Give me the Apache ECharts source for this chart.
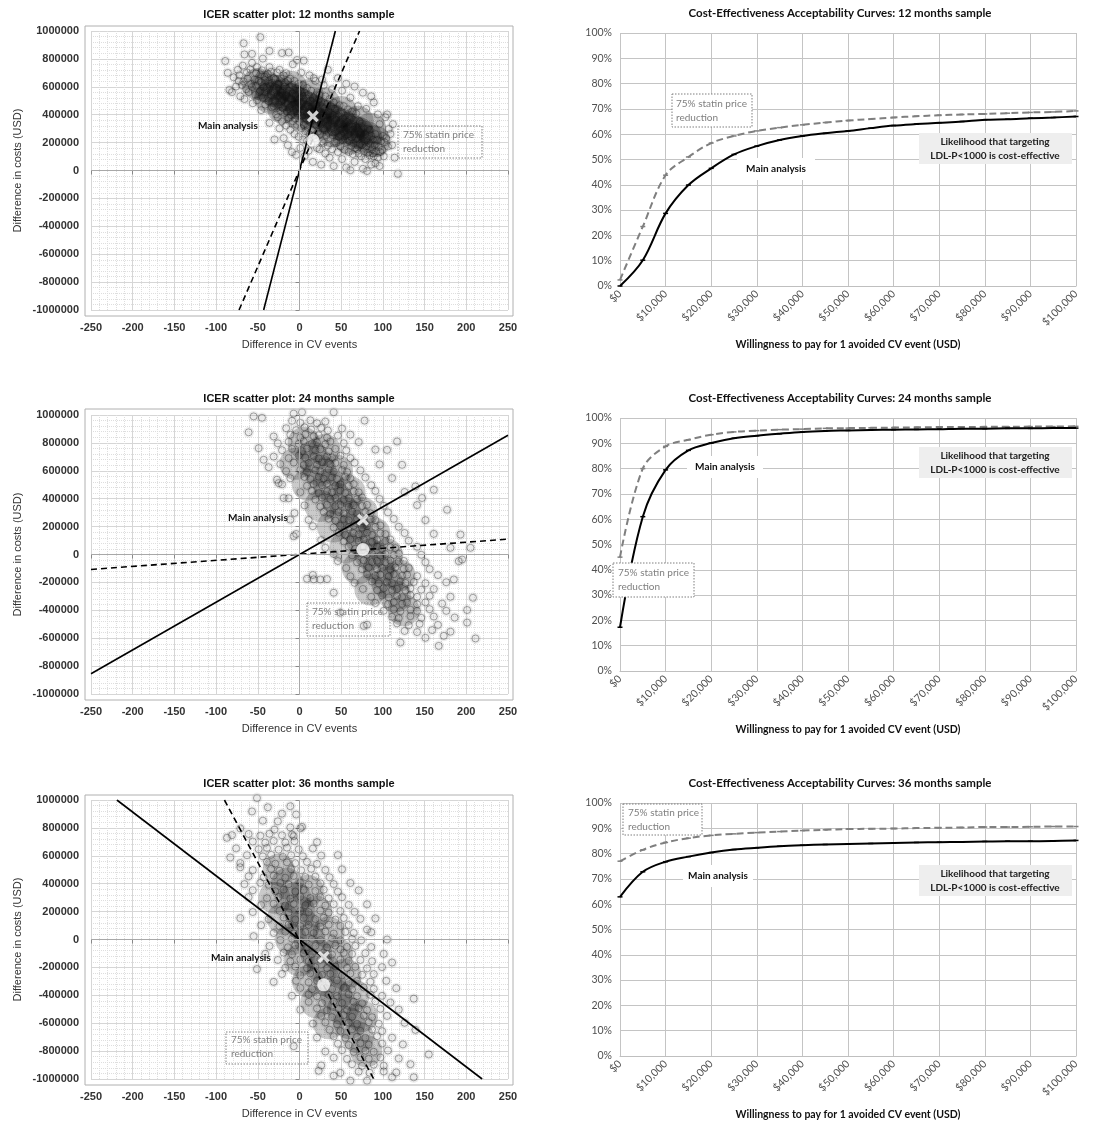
<!DOCTYPE html>
<html>
<head>
<meta charset="utf-8">
<script src="https://cdn.jsdelivr.net/npm/echarts@6/dist/echarts.min.js"></script>
<style>html,body{margin:0;background:#fff}#main{width:1119px;height:1122px}</style>
</head>
<body>
<div id="main"></div>
<script>
// ICER scatter clouds: [difference in CV events, difference in costs (thousand USD)]
const cloud12 = [[-89,785],[-84,578],[-86,700],[-81,562],[-79,668],[-76,602],[-73,642],[-74,722],[-71,532],[-69,612],[-72,683],[-68,752],[-66,512],[-64,583],[-67,638],[-63,703],[-66,832],[-67,912],[-61,563],[-58,622],[-62,658],[-59,724],[-57,772],[-56,482],[-53,543],[-57,598],[-54,652],[-52,697],[-57,836],[-51,503],[-48,562],[-52,608],[-49,643],[-47,688],[-51,742],[-46,433],[-44,522],[-47,572],[-43,598],[-46,633],[-42,671],[-45,718],[-44,802],[-47,956],[-41,472],[-38,528],[-42,561],[-39,592],[-37,622],[-41,648],[-38,692],[-36,741],[-36,342],[-33,452],[-37,498],[-34,541],[-32,569],[-35,603],[-33,628],[-31,662],[-34,708],[-36,857],[-30,222],[-28,402],[-31,462],[-29,498],[-27,533],[-30,558],[-28,592],[-26,618],[-29,652],[-27,703],[-24,302],[-26,382],[-23,428],[-25,472],[-22,498],[-24,532],[-21,558],[-23,588],[-25,622],[-22,658],[-24,722],[-19,232],[-21,352],[-18,412],[-20,448],[-17,482],[-19,508],[-16,542],[-20,568],[-18,602],[-17,632],[-19,682],[-21,842],[-14,182],[-16,322],[-13,378],[-15,422],[-12,452],[-14,478],[-11,512],[-15,538],[-13,572],[-12,598],[-14,642],[-16,698],[-13,846],[-9,132],[-11,292],[-8,352],[-10,398],[-7,432],[-9,458],[-6,492],[-10,518],[-8,552],[-7,578],[-9,612],[-11,658],[-8,762],[-4,112],[-6,262],[-3,328],[-5,372],[-2,408],[-4,442],[-6,468],[-3,502],[-5,528],[-2,562],[-4,588],[-6,642],[-3,792],[1,162],[-1,242],[2,302],[0,348],[3,392],[1,418],[-1,452],[2,478],[0,512],[3,538],[1,572],[-1,622],[2,702],[6,102],[4,222],[7,282],[5,328],[8,372],[6,398],[4,432],[7,458],[5,492],[8,518],[6,558],[4,612],[5,788],[11,142],[9,212],[12,258],[10,312],[13,348],[11,382],[9,408],[12,442],[10,468],[13,502],[11,542],[9,592],[12,682],[16,62],[14,192],[17,248],[15,292],[18,328],[16,362],[14,388],[17,422],[15,448],[18,482],[16,518],[14,572],[17,662],[21,162],[19,232],[22,278],[20,322],[23,348],[21,382],[19,412],[22,438],[20,472],[23,508],[21,562],[19,642],[26,42],[24,152],[27,208],[25,262],[28,298],[26,332],[24,358],[27,392],[25,418],[28,452],[26,488],[24,542],[27,652],[31,122],[29,198],[32,252],[30,288],[33,322],[31,348],[29,382],[32,408],[30,442],[33,478],[31,532],[29,612],[36,92],[34,178],[37,232],[35,268],[38,302],[36,328],[34,362],[37,388],[35,422],[38,458],[36,512],[34,722],[41,32],[39,152],[42,208],[40,252],[43,278],[41,312],[39,338],[42,372],[40,398],[43,442],[41,488],[39,582],[46,132],[44,198],[47,242],[45,268],[48,302],[46,328],[44,362],[47,388],[45,432],[48,468],[46,662],[51,82],[49,172],[52,218],[50,252],[53,278],[51,312],[49,338],[52,372],[50,408],[53,462],[51,572],[56,22],[54,148],[57,202],[55,228],[58,262],[56,288],[54,322],[57,348],[55,392],[58,438],[56,622],[61,2],[59,132],[62,178],[60,212],[63,238],[61,272],[59,298],[62,332],[60,368],[63,422],[61,522],[66,62],[64,118],[67,162],[65,198],[68,232],[66,258],[64,292],[67,318],[65,362],[68,408],[66,602],[71,122],[69,152],[72,188],[70,222],[73,248],[71,282],[69,308],[72,352],[70,462],[76,12],[74,102],[77,138],[75,182],[78,208],[76,242],[74,268],[77,302],[75,338],[76,558],[81,-4],[79,82],[82,128],[80,172],[83,198],[81,232],[79,262],[82,298],[80,442],[86,42],[84,108],[87,152],[85,188],[88,222],[86,248],[84,292],[86,532],[91,52],[89,102],[92,138],[90,182],[93,218],[91,262],[89,488],[88,122],[96,32],[94,92],[97,132],[95,168],[98,212],[96,332],[94,402],[101,102],[99,148],[102,202],[100,248],[103,382],[106,172],[104,232],[107,298],[105,402],[111,182],[109,262],[112,332],[114,92],[118,-24]];

const cloud24 = [[-9,958],[1,944],[13,962],[21,941],[31,953],[-7,1010],[3,1020],[41,1020],[78,960],[-55,990],[-45,980],[-61,876],[-16,905],[-4,891],[6,912],[14,896],[26,908],[34,889],[51,903],[-31,846],[-11,858],[1,839],[7,861],[17,847],[23,855],[33,838],[46,852],[61,859],[-26,797],[-13,808],[-1,793],[5,811],[15,796],[21,804],[31,791],[37,809],[53,798],[71,806],[117,810],[-21,748],[-9,757],[3,741],[9,759],[19,746],[25,754],[35,739],[43,757],[56,746],[91,752],[-49,762],[105,750],[-31,702],[-13,691],[-1,709],[7,694],[17,706],[23,689],[33,703],[39,696],[49,708],[61,691],[-23,648],[-7,659],[5,641],[11,656],[21,644],[27,661],[37,647],[43,655],[53,642],[66,658],[96,646],[123,643],[-43,679],[-37,626],[-16,598],[1,607],[9,591],[19,604],[25,596],[35,609],[41,593],[51,606],[57,591],[73,603],[-11,547],[6,556],[13,541],[23,558],[29,544],[39,553],[45,541],[55,557],[61,546],[79,552],[111,548],[-27,536],[-21,503],[9,492],[17,506],[27,497],[33,508],[43,494],[49,503],[59,491],[65,505],[86,497],[139,488],[-25,512],[1,447],[15,456],[23,441],[33,454],[39,445],[49,458],[55,441],[65,452],[71,446],[91,455],[126,448],[161,464],[-13,403],[19,394],[27,408],[37,397],[43,406],[53,392],[59,404],[69,396],[75,409],[96,398],[147,405],[-19,405],[6,352],[25,344],[33,357],[43,346],[49,358],[59,341],[65,353],[75,347],[81,356],[101,349],[141,354],[-6,297],[29,306],[37,292],[47,303],[53,295],[63,308],[69,294],[79,305],[85,296],[106,302],[177,321],[11,248],[35,256],[43,243],[53,254],[59,246],[69,257],[75,241],[85,253],[91,247],[113,255],[151,246],[-11,250],[16,203],[41,194],[49,207],[59,196],[65,205],[75,192],[81,204],[91,197],[97,208],[119,199],[-4,147],[47,156],[55,142],[65,153],[71,145],[81,157],[87,141],[97,152],[103,146],[126,154],[161,148],[193,143],[-7,131],[26,103],[53,94],[61,108],[71,97],[77,106],[87,92],[93,104],[103,96],[109,107],[131,99],[31,48],[59,56],[67,42],[77,54],[83,45],[93,57],[99,41],[109,52],[115,46],[141,55],[181,48],[205,48],[41,3],[63,-6],[71,8],[81,-3],[87,6],[97,-8],[103,4],[113,-4],[119,7],[146,-2],[195,-36],[46,-47],[69,-56],[77,-42],[87,-54],[93,-45],[103,-57],[109,-43],[119,-52],[125,-46],[151,-55],[191,-48],[56,-97],[75,-106],[83,-93],[93,-104],[99,-95],[109,-107],[115,-92],[125,-103],[131,-97],[156,-105],[16,-147],[61,-156],[81,-142],[91,-153],[97,-145],[107,-157],[113,-141],[123,-152],[129,-146],[141,-155],[166,-148],[185,-179],[9,-174],[17,-178],[25,-179],[33,-176],[66,-203],[87,-194],[95,-207],[105,-196],[111,-205],[121,-192],[127,-204],[137,-197],[151,-206],[176,-199],[76,-247],[93,-256],[101,-242],[111,-254],[117,-246],[127,-257],[133,-243],[146,-252],[161,-248],[86,-303],[99,-294],[107,-308],[117,-297],[123,-305],[133,-292],[141,-304],[156,-296],[181,-303],[208,-310],[41,-274],[91,-348],[106,-356],[113,-342],[123,-354],[129,-345],[141,-357],[151,-343],[171,-352],[101,-403],[113,-394],[121,-407],[133,-396],[141,-405],[156,-392],[176,-404],[201,-398],[49,-417],[111,-447],[119,-456],[133,-442],[146,-454],[161,-445],[186,-452],[81,-503],[117,-494],[131,-507],[144,-497],[166,-505],[201,-488],[77,-512],[126,-548],[141,-556],[159,-542],[181,-553],[121,-631],[151,-597],[173,-583],[211,-602],[167,-655]];

const cloud36 = [[-51,1014],[-11,955],[-38,948],[-57,918],[-21,902],[-4,896],[-44,852],[-26,847],[-30,788],[-7,741],[3,808],[-71,796],[-11,803],[1,797],[-81,748],[-61,756],[-47,744],[-36,758],[-21,747],[-9,753],[-87,729],[-56,702],[-41,694],[-31,707],[-17,696],[-6,705],[21,698],[-76,653],[-49,647],[-39,656],[-25,644],[-15,658],[-1,646],[16,652],[-83,588],[-63,604],[-44,596],[-34,607],[-20,593],[-10,604],[4,597],[26,602],[46,605],[-71,548],[-39,556],[-29,544],[-15,553],[-5,547],[9,556],[21,542],[-71,518],[-56,497],[-34,506],[-24,493],[-10,504],[2,496],[14,507],[31,498],[51,503],[-61,453],[-43,446],[-31,457],[-17,443],[-7,455],[7,448],[19,451],[36,446],[-66,397],[-47,406],[-37,392],[-23,405],[-13,396],[1,407],[11,394],[25,403],[41,397],[61,405],[-56,353],[-29,346],[-19,357],[-5,344],[5,355],[19,348],[29,356],[46,343],[71,352],[-61,304],[-39,296],[-25,305],[-11,293],[1,307],[13,297],[25,304],[35,295],[51,303],[-46,247],[-31,256],[-17,243],[-7,254],[7,246],[17,257],[31,244],[41,253],[59,248],[81,252],[-56,197],[-24,206],[-13,194],[1,205],[11,196],[25,207],[35,193],[49,204],[66,198],[-71,153],[-37,146],[-19,157],[-5,144],[5,155],[19,147],[29,156],[43,143],[53,154],[73,148],[91,151],[-46,103],[-24,94],[-13,107],[1,96],[11,105],[25,93],[35,106],[49,97],[59,104],[81,71],[-31,47],[-17,56],[-7,44],[7,53],[17,46],[31,57],[41,43],[55,54],[65,47],[86,52],[-55,24],[-23,-4],[-9,6],[1,-7],[15,5],[25,-3],[39,8],[49,-5],[63,4],[74,-6],[105,0],[-36,-47],[-14,-56],[-5,-43],[9,-54],[19,-46],[33,-57],[43,-44],[57,-53],[67,-46],[86,-54],[49,-71],[-41,-103],[-19,-94],[-9,-106],[5,-97],[15,-105],[29,-93],[39,-107],[53,-96],[63,-104],[79,-98],[101,-103],[-26,-147],[-11,-156],[1,-143],[11,-155],[25,-146],[35,-157],[49,-144],[59,-153],[73,-147],[87,-156],[111,-165],[-51,-212],[-17,-203],[-5,-194],[9,-206],[19,-197],[33,-205],[43,-193],[57,-204],[67,-196],[81,-207],[99,-198],[-21,-247],[1,-256],[13,-243],[27,-254],[37,-246],[51,-257],[61,-244],[75,-253],[89,-248],[-31,-304],[-4,-296],[11,-307],[21,-295],[35,-306],[45,-293],[59,-305],[69,-297],[85,-303],[104,-296],[1,-347],[15,-356],[29,-344],[39,-355],[53,-346],[63,-357],[77,-343],[89,-354],[116,-349],[-9,-403],[11,-394],[21,-407],[35,-396],[45,-405],[59,-393],[69,-406],[85,-397],[99,-404],[137,-424],[11,-447],[27,-456],[41,-444],[51,-455],[65,-446],[75,-457],[91,-443],[109,-452],[1,-503],[21,-494],[33,-507],[47,-496],[57,-505],[71,-493],[81,-506],[97,-497],[119,-503],[26,-547],[39,-556],[53,-543],[63,-554],[77,-546],[87,-557],[105,-548],[16,-603],[31,-594],[45,-607],[59,-596],[69,-605],[83,-593],[95,-604],[126,-597],[36,-647],[49,-656],[63,-644],[73,-655],[87,-646],[99,-657],[139,-648],[21,-703],[41,-694],[55,-706],[69,-697],[79,-705],[93,-693],[111,-704],[-7,-765],[46,-747],[59,-756],[73,-744],[83,-754],[99,-746],[124,-752],[31,-803],[51,-794],[65,-806],[79,-797],[89,-805],[106,-796],[155,-824],[41,-847],[57,-856],[73,-844],[83,-855],[97,-846],[119,-853],[26,-903],[63,-894],[75,-906],[89,-897],[101,-905],[133,-894],[23,-941],[49,-956],[71,-947],[84,-955],[101,-946],[116,-953],[41,-976],[61,-1012],[81,-1012],[111,-988],[137,-988]];

// centres of the darkest (most overlapped) part of each cloud, thousand USD
const core12 = [[-50,620],[-40,600],[-30,570],[-20,540],[-10,510],[0,480],[10,450],[20,420],[30,390],[40,360],[50,330],[60,300],[70,270],[80,240],[90,210],[-20,450],[0,400],[20,340],[40,280],[60,230],[-10,600],[10,540],[30,480],[50,420],[70,350],[-35,520],[85,300]];
const core24 = [[5,800],[15,700],[25,600],[35,500],[45,400],[55,300],[65,200],[75,100],[85,0],[95,-100],[105,-200],[115,-300],[125,-400],[30,750],[45,600],[60,450],[75,300],[90,150],[105,0],[120,-150],[-5,650],[10,500],[25,350],[40,200],[55,50],[70,-100],[85,-250]];
const core36 = [[-25,500],[-15,400],[-5,300],[0,200],[5,100],[12,0],[20,-100],[28,-200],[36,-300],[44,-400],[52,-500],[60,-600],[70,-700],[80,-800],[10,350],[20,200],[35,50],[45,-100],[55,-250],[65,-400],[75,-550],[-30,300],[-20,150],[-10,0],[0,-150],[10,-300],[20,-450],[35,-600]];

// ICER lines (solid = main analysis, dashed = 75% statin price reduction), thousand USD
const solid12 = [[-43,-1000],[43,1000]];
const dashed12 = [[-72.5,-1000],[72,1000]];
const solid24 = [[-250,-855],[250,855]];
const dashed24 = [[-250,-107],[250,110]];
const solid36 = [[-219,1000],[219,-1000]];
const dashed36 = [[-90,1000],[89,-1000]];

// mean ICER points
const mainPt12 = [16,388], pricePt12 = [16,217];
const mainPt24 = [76,250], pricePt24 = [76,36];
const mainPt36 = [29,-125], pricePt36 = [29,-325];

// CEAC: willingness to pay and probability cost-effective (%)
const wtp = [0,5000,10000,15000,20000,25000,30000,35000,40000,45000,50000,55000,60000,65000,70000,75000,80000,85000,90000,95000,100000];
const ceacMain12 = [0,10.2,28.7,39.9,46.5,52,55.3,57.7,59.3,60.4,61.3,62.4,63.4,64,64.5,65,65.7,65.9,66.3,66.6,67];
const ceacPrice12 = [2.4,23.5,43.8,51,56.5,59.3,61.3,62.6,63.7,64.6,65.4,66,66.6,67.1,67.5,67.8,68,68.3,68.6,68.8,69.2];
const ceacMain24 = [17.3,61,79.5,87.2,90.1,92,93,93.8,94.5,94.9,95.1,95.3,95.4,95.5,95.6,95.8,95.8,95.9,95.9,96,96];
const ceacPrice24 = [45,80,88.8,91.4,93.4,94.5,95,95.4,95.6,95.9,96,96.1,96.2,96.3,96.4,96.4,96.5,96.5,96.6,96.6,96.7];
const ceacMain36 = [62.9,72.8,76.8,78.8,80.4,81.6,82.3,82.9,83.3,83.6,83.8,84,84.2,84.4,84.5,84.6,84.8,84.9,84.9,85,85.2];
const ceacPrice36 = [77,81.5,84.4,86.1,87.2,87.8,88.3,88.7,89.1,89.4,89.7,89.8,89.9,90.1,90.2,90.3,90.5,90.5,90.6,90.7,90.7];

const months = ['12', '24', '36'];
const clouds = [cloud12, cloud24, cloud36];
const cores = [core12, core24, core36];
const solids = [solid12, solid24, solid36];
const dashes = [dashed12, dashed24, dashed36];
const mainPts = [mainPt12, mainPt24, mainPt36];
const pricePts = [pricePt12, pricePt24, pricePt36];
const ceacMain = [ceacMain12, ceacMain24, ceacMain36];
const ceacPrice = [ceacPrice12, ceacPrice24, ceacPrice36];

// layout
const leftTops = [31, 415, 800];
const rightTops = [33, 418, 803];
const coreAlpha = [0.3, 0.26, 0.26];
const cross = 'path://M0,2 L2,0 L5,3 L8,0 L10,2 L7,5 L10,8 L8,10 L5,7 L2,10 L0,8 L3,5 Z';
const lato = 'Lato';
const arial = 'Liberation Sans';

const grid = [], xAxis = [], yAxis = [], series = [], title = [], graphic = [];

months.forEach((m, i) => {
    // ---- left: ICER scatter plot ----
    const l = 2 * i;
    grid.push({ left: 91, top: leftTops[i], width: 417, height: 279 });
    xAxis.push({
        gridIndex: l, type: 'value', min: -250, max: 250, interval: 50, offset: 6,
        axisLine: { show: false },
        axisTick: { show: true, length: 4, lineStyle: { color: '#888' } },
        axisLabel: { margin: 6, color: '#333', fontFamily: arial, fontSize: 11, fontWeight: 'bold' },
        splitLine: { lineStyle: { color: '#d6d6d6' } },
        minorTick: { show: false, splitNumber: 5 },
        minorSplitLine: { show: true, lineStyle: { color: '#dedede', type: 'dotted' } },
        name: 'Difference in CV events', nameLocation: 'middle', nameGap: 23,
        nameTextStyle: { fontFamily: arial, fontSize: 11, color: '#333' }
    });
    yAxis.push({
        gridIndex: l, type: 'value', min: -1000, max: 1000, interval: 200, offset: 6,
        axisLine: { show: false },
        axisTick: { show: true, length: 4, lineStyle: { color: '#888' } },
        axisLabel: { margin: 6, color: '#333', fontFamily: arial, fontSize: 11, fontWeight: 'bold',
            formatter: v => String(v * 1000) },
        splitLine: { lineStyle: { color: '#d6d6d6' } },
        minorTick: { show: false, splitNumber: 5 },
        minorSplitLine: { show: true, lineStyle: { color: '#dedede', type: 'dotted' } },
        name: 'Difference in costs (USD)', nameLocation: 'middle', nameGap: 62,
        nameTextStyle: { fontFamily: arial, fontSize: 11, color: '#333' }
    });
    // dark core of the cloud
    series.push({
        type: 'scatter', xAxisIndex: l, yAxisIndex: l, data: cores[i], silent: true,
        symbol: 'circle', symbolSize: 32, z: 1,
        itemStyle: { color: 'rgba(0,0,0,' + coreAlpha[i] + ')' },
        markLine: {
            silent: true, symbol: 'none', label: { show: false }, animation: false,
            lineStyle: { color: '#a8a8a8', type: 'solid', width: 1 },
            data: [{ xAxis: 0 }, { yAxis: 0 }]
        }
    });
    // soft shade of each draw
    series.push({
        type: 'scatter', xAxisIndex: l, yAxisIndex: l, data: clouds[i], clip: false, silent: true,
        symbol: 'circle', symbolSize: 11, z: 1,
        itemStyle: { color: 'rgba(0,0,0,0.09)' }
    });
    series.push({
        type: 'scatter', xAxisIndex: l, yAxisIndex: l, data: clouds[i], clip: false, silent: true,
        symbol: 'circle', symbolSize: 7, z: 2,
        itemStyle: { color: 'rgba(0,0,0,0)', borderColor: 'rgba(20,20,20,0.55)', borderWidth: 0.8 }
    });
    series.push({
        type: 'line', xAxisIndex: l, yAxisIndex: l, data: solids[i], symbol: 'none', z: 4,
        lineStyle: { color: '#000', width: 1.6 }
    });
    series.push({
        type: 'line', xAxisIndex: l, yAxisIndex: l, data: dashes[i], symbol: 'none', z: 4,
        lineStyle: { color: '#000', width: 1.6, type: [6, 4] }
    });
    series.push({
        type: 'scatter', xAxisIndex: l, yAxisIndex: l, data: [mainPts[i]], symbol: cross, symbolSize: 12, z: 6,
        itemStyle: { color: '#fff' }
    });
    series.push({
        type: 'scatter', xAxisIndex: l, yAxisIndex: l, data: [pricePts[i]], symbol: 'circle', symbolSize: 13, z: 6,
        itemStyle: { color: '#fff' }
    });
    title.push({
        text: 'ICER scatter plot: ' + m + ' months sample', left: 299, top: leftTops[i] - 22, textAlign: 'center', padding: 0,
        textStyle: { fontFamily: arial, fontSize: 11, fontWeight: 'bold', color: '#111' }
    });

    // ---- right: CEAC ----
    const r = 2 * i + 1;
    grid.push({ left: 620, top: rightTops[i], width: 456, height: 253 });
    xAxis.push({
        gridIndex: r, type: 'value', min: 0, max: 100000, interval: 10000,
        axisLine: { show: true, lineStyle: { color: '#bfbfbf' } },
        axisTick: { show: false },
        axisLabel: { rotate: 45, margin: 6, color: '#505050', fontFamily: lato, fontSize: 10.5,
            formatter: v => '$' + v.toLocaleString('en-US') },
        splitLine: { lineStyle: { color: '#c4c4c4' } },
        name: 'Willingness to pay for 1 avoided CV event (USD)', nameLocation: 'middle', nameGap: 53,
        nameTextStyle: { fontFamily: lato, fontSize: 10.5, fontWeight: 'bold', color: '#111' }
    });
    yAxis.push({
        gridIndex: r, type: 'value', min: 0, max: 100, interval: 10,
        axisLine: { show: false }, axisTick: { show: false },
        axisLabel: { margin: 8, color: '#505050', fontFamily: lato, fontSize: 10.5, formatter: '{value}%' },
        splitLine: { lineStyle: { color: '#c4c4c4' } }
    });
    series.push({
        type: 'line', xAxisIndex: r, yAxisIndex: r, smooth: 0.35, z: 4,
        data: wtp.map((w, j) => [w, ceacPrice[i][j]]),
        symbol: 'rect', symbolSize: [5, 1.5], itemStyle: { color: '#7f7f7f' },
        lineStyle: { color: '#7f7f7f', width: 2, type: [7, 4] }
    });
    series.push({
        type: 'line', xAxisIndex: r, yAxisIndex: r, smooth: 0.35, z: 5,
        data: wtp.map((w, j) => [w, ceacMain[i][j]]),
        symbol: 'rect', symbolSize: [5, 1.5], itemStyle: { color: '#000' },
        lineStyle: { color: '#000', width: 2 }
    });
    title.push({
        text: 'Cost-Effectiveness Acceptability Curves: ' + m + ' months sample', left: 840, top: rightTops[i] - 26,
        textAlign: 'center', padding: 0,
        textStyle: { fontFamily: lato, fontSize: 11.5, fontWeight: 'bold', color: '#111' }
    });
});

// frames around the scatter plots
[[85, 26, 428, 290], [85, 409, 428, 291], [85, 795, 428, 290]].forEach(b => {
    graphic.push({ type: 'rect', z: 100, silent: true, shape: { x: b[0], y: b[1], width: b[2], height: b[3] },
        style: { fill: 'none', stroke: '#b0b0b0', lineWidth: 1 } });
});

function note(x, y, w, h, fill, tx, ty) {
    graphic.push({ type: 'rect', z: 100, shape: { x: x, y: y, width: w, height: h },
        style: { fill: fill, stroke: '#7f7f7f', lineWidth: 1, lineDash: [1.5, 1.5] } });
    graphic.push({ type: 'text', z: 101, style: { x: tx, y: ty, text: '75% statin price\nreduction',
        font: '10px Lato', fill: '#7f7f7f', lineHeight: 14, align: 'left', verticalAlign: 'top' } });
}
function label(x, y, text, align) {
    graphic.push({ type: 'text', z: 101, style: { x: x, y: y, text: text, font: 'bold 10px Lato', fill: '#111',
        align: align, verticalAlign: 'middle' } });
}
function box(x, y, w, h, fill) {
    graphic.push({ type: 'rect', z: 100, shape: { x: x, y: y, width: w, height: h }, style: { fill: fill } });
}

// scatter annotations
label(198, 126, 'Main analysis', 'left');
label(228, 518, 'Main analysis', 'left');
label(211, 958, 'Main analysis', 'left');
note(398, 126, 84, 32, 'none', 403, 128);
note(307, 603, 83, 33, 'none', 312, 605);
note(226, 1032, 82, 32, 'none', 231, 1033);

// CEAC annotations
note(672, 94, 80, 33, '#fff', 676, 97);
note(613, 563, 81, 34, '#fff', 618, 566);
note(623, 804, 79, 31, '#fff', 628, 806);
[[737, 158, 78, 22], [687, 456, 76, 22], [683, 865, 70, 22]].forEach(b => {
    box(b[0], b[1], b[2], b[3], '#fff');
    label(b[0] + b[2] / 2, b[1] + 11, 'Main analysis', 'center');
});
[133, 447, 865].forEach(t => {
    box(919, t, 153, 31, '#eeeeee');
    graphic.push({ type: 'text', z: 101, style: { x: 995, y: t + 15.5,
        text: 'Likelihood that targeting\nLDL-P<1000 is cost-effective', font: 'bold 10px Lato', fill: '#222',
        lineHeight: 14, align: 'center', verticalAlign: 'middle' } });
});

const chart = echarts.init(document.getElementById('main'));
chart.setOption({
    animation: false,
    backgroundColor: '#fff',
    title: title,
    grid: grid,
    xAxis: xAxis,
    yAxis: yAxis,
    series: series,
    graphic: graphic
});
</script>
</body>
</html>
